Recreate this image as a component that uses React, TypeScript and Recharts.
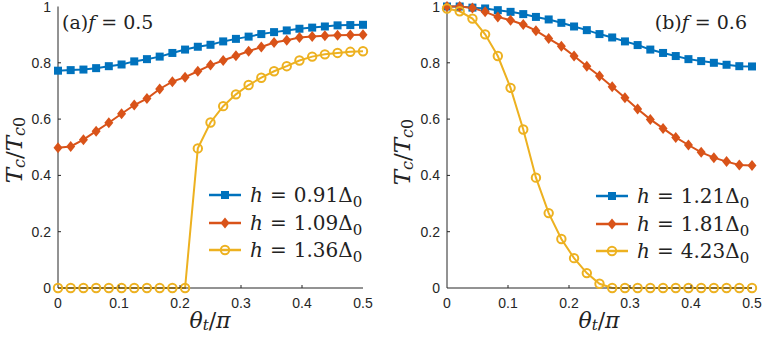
import React from "react";
import { Legend, Line, LineChart, XAxis, YAxis } from "recharts";

// theta_t / pi sample points (25 points from 0 to 0.5)
const theta = [
  0, 0.0208, 0.0417, 0.0625, 0.0833, 0.1042, 0.125, 0.1458, 0.1667, 0.1875, 0.2083, 0.2292, 0.25,
  0.2708, 0.2917, 0.3125, 0.3333, 0.3542, 0.375, 0.3958, 0.4167, 0.4375, 0.4583, 0.4792, 0.5,
];

// panel (a), f = 0.5
const hA = ["0.91", "1.09", "1.36"];
const a091 = [
  0.772, 0.774, 0.776, 0.781, 0.788, 0.794, 0.805, 0.813, 0.822, 0.835, 0.847, 0.857, 0.864, 0.876,
  0.885, 0.893, 0.902, 0.909, 0.915, 0.921, 0.925, 0.929, 0.933, 0.934, 0.935,
];
const a109 = [
  0.498, 0.503, 0.527, 0.557, 0.587, 0.619, 0.65, 0.673, 0.707, 0.733, 0.749, 0.77, 0.792, 0.808,
  0.825, 0.841, 0.856, 0.872, 0.88, 0.89, 0.893, 0.896, 0.898, 0.899, 0.9,
];
const a136 = [
  0, 0, 0, 0, 0, 0, 0, 0, 0, 0, 0, 0.496, 0.588, 0.646, 0.688, 0.721, 0.747, 0.77, 0.788, 0.808,
  0.822, 0.83, 0.835, 0.839, 0.841,
];

// panel (b), f = 0.6
const hB = ["1.21", "1.81", "4.23"];
const b121 = [
  1.0, 1.0, 0.996, 0.993, 0.987, 0.981, 0.973, 0.963, 0.954, 0.942, 0.929, 0.916, 0.902, 0.89,
  0.876, 0.863, 0.847, 0.835, 0.824, 0.813, 0.806, 0.8, 0.793, 0.788, 0.787,
];
const b181 = [
  1.0, 1.0, 0.995, 0.981, 0.963, 0.951, 0.936, 0.914, 0.886, 0.859, 0.824, 0.788, 0.753, 0.715,
  0.676, 0.636, 0.599, 0.567, 0.535, 0.508, 0.482, 0.463, 0.449, 0.437, 0.435,
];
const b423 = [
  0.993, 0.983, 0.957, 0.901, 0.824, 0.711, 0.563, 0.392, 0.266, 0.174, 0.106, 0.053, 0.015, 0, 0,
  0, 0, 0, 0, 0, 0, 0, 0, 0, 0,
];

const xTicks = [0, 0.1, 0.2, 0.3, 0.4, 0.5];
const yTicks = [0, 0.2, 0.4, 0.6, 0.8, 1];

const COLORS = ["#0072BD", "#D95319", "#EDB120"];
const MARKERS = ["square", "diamond", "circle"] as const;
const AXIS = "#262626";
const SANS = "Liberation Sans, Arial, sans-serif";
const SERIF = "DejaVu Serif, serif";

function Marker({ kind, cx, cy, color }: { kind: string; cx: number; cy: number; color: string }) {
  if (kind === "square") return <rect x={cx - 4} y={cy - 4} width={8} height={8} fill={color} />;
  if (kind === "diamond")
    return (
      <polygon
        points={`${cx},${cy - 5.5} ${cx + 4.5},${cy} ${cx},${cy + 5.5} ${cx - 4.5},${cy}`}
        fill={color}
      />
    );
  return <circle cx={cx} cy={cy} r={4.2} fill="none" stroke={color} strokeWidth={2} />;
}

const dotFor = (kind: string, color: string) => (p: any) => (
  <g key={`dot-${kind}-${p.index}`}>
    <Marker kind={kind} cx={p.cx} cy={p.cy} color={color} />
  </g>
);

const XTick = (p: any) => {
  const ay = p.y - 15;
  const v = p.payload.value;
  return (
    <g>
      {v > 0 && v < 0.5 && <line x1={p.x} x2={p.x} y1={ay} y2={ay - 3} stroke={AXIS} />}
      <text x={p.x} y={p.y} textAnchor="middle" dominantBaseline="central" fontFamily={SANS} fontSize={14} fill={AXIS}>
        {v === 0 ? "0" : String(v)}
      </text>
    </g>
  );
};

const YTick = (p: any) => {
  const ax = p.x + 7;
  const v = p.payload.value;
  return (
    <g>
      {v > 0 && v < 1 && <line x1={ax} x2={ax + 3} y1={p.y} y2={p.y} stroke={AXIS} />}
      <text x={p.x} y={p.y} textAnchor="end" dominantBaseline="central" fontFamily={SANS} fontSize={14} fill={AXIS}>
        {String(v)}
      </text>
    </g>
  );
};

function LegendBox({ hs }: { hs: string[] }) {
  return (
    <div style={{ position: "relative", width: 170, height: 84, fontFamily: SERIF, fontSize: 20, color: "#222" }}>
      {hs.map((h, i) => (
        <div
          key={h}
          style={{
            position: "absolute",
            left: 0,
            top: i * 27.5,
            height: 28,
            display: "flex",
            alignItems: "center",
            whiteSpace: "nowrap",
          }}
        >
          <svg width={34} height={20} style={{ marginRight: 8, flex: "none" }}>
            <line x1={1} x2={33} y1={10} y2={10} stroke={COLORS[i]} strokeWidth={2.5} />
            <Marker kind={MARKERS[i]} cx={17} cy={10} color={COLORS[i]} />
          </svg>
          <span>
            <i>h</i>
            <span style={{ margin: "0 7px" }}>=</span>
            {h}Δ<span style={{ fontSize: 15, position: "relative", top: 5 }}>0</span>
          </span>
        </div>
      ))}
    </div>
  );
}

function Panel({
  series,
  hs,
  yAxisWidth,
  right,
  legendLeft,
  legendTop,
}: {
  series: number[][];
  hs: string[];
  yAxisWidth: number;
  right: number;
  legendLeft: number;
  legendTop: number;
}) {
  const rows = theta.map((t, i) => ({ t, s0: series[0][i], s1: series[1][i], s2: series[2][i] }));
  const width = yAxisWidth + 305 + right;
  return (
    <LineChart width={width} height={339} data={rows} margin={{ top: 6.5, right, left: 0, bottom: 21 }}>
      <XAxis
        dataKey="t"
        type="number"
        domain={[0, 0.5]}
        ticks={xTicks}
        tickSize={0}
        tickMargin={15}
        height={30}
        tick={XTick}
        stroke={AXIS}
        interval={0}
      />
      <XAxis xAxisId="top" orientation="top" type="number" domain={[0, 0.5]} height={0} tick={false} stroke={AXIS} />
      <YAxis
        type="number"
        domain={[0, 1]}
        ticks={yTicks}
        tickSize={0}
        tickMargin={7}
        width={yAxisWidth}
        tick={YTick}
        stroke={AXIS}
        interval={0}
      />
      <YAxis yAxisId="r" orientation="right" type="number" domain={[0, 1]} width={0} tick={false} stroke={AXIS} />
      <Legend
        layout="horizontal"
        verticalAlign="middle"
        align="center"
        wrapperStyle={{ left: legendLeft, top: legendTop, width: 170, height: 84 }}
        content={() => <LegendBox hs={hs} />}
      />
      {[0, 1, 2].map((k) => (
        <Line
          key={k}
          type="linear"
          dataKey={`s${k}`}
          name={`h = ${hs[k]}Δ0`}
          stroke={COLORS[k]}
          strokeWidth={2}
          dot={dotFor(MARKERS[k], COLORS[k])}
          activeDot={false}
          isAnimationActive={false}
        />
      ))}
    </LineChart>
  );
}

function YLabel({ x, y }: { x: number; y: number }) {
  return (
    <text transform={`translate(${x},${y}) rotate(-90)`} textAnchor="middle" dominantBaseline="central" fontFamily={SERIF} fontSize={23} fill="#222">
      <tspan fontStyle="italic">T</tspan>
      <tspan fontStyle="italic" fontSize={16} dy={5}>c</tspan>
      <tspan dy={-5}>/</tspan>
      <tspan fontStyle="italic">T</tspan>
      <tspan fontStyle="italic" fontSize={16} dy={5}>c</tspan>
      <tspan fontSize={16}>0</tspan>
    </text>
  );
}

function XLabel({ x, y }: { x: number; y: number }) {
  return (
    <text x={x} y={y} textAnchor="middle" dominantBaseline="central" fontFamily={SERIF} fontSize={22} fill="#222">
      <tspan fontStyle="italic">θ</tspan>
      <tspan fontStyle="italic" fontSize={15} dy={5}>t</tspan>
      <tspan dy={-5}>/</tspan>
      <tspan fontStyle="italic">π</tspan>
    </text>
  );
}

export default function App() {
  return (
    <div style={{ position: "fixed", left: 0, top: 0, width: 763, height: 339, background: "#fff" }}>
      <div style={{ position: "absolute", left: 0, top: 0 }}>
        <Panel series={[a091, a109, a136]} hs={hA} yAxisWidth={58} right={17} legendLeft={208} legendTop={181} />
      </div>
      <div style={{ position: "absolute", left: 380, top: 0 }}>
        <Panel series={[b121, b181, b423]} hs={hB} yAxisWidth={67} right={12} legendLeft={215} legendTop={182} />
      </div>
      <svg width={763} height={339} style={{ position: "absolute", left: 0, top: 0, pointerEvents: "none" }}>
        <YLabel x={14} y={150} />
        <YLabel x={402} y={152} />
        <XLabel x={210} y={320} />
        <XLabel x={599} y={320} />
        <text x={62} y={29} fontFamily={SERIF} fontSize={19} fill="#222">
          (a)<tspan fontStyle="italic">f</tspan> = 0.5
        </text>
        <text x={747} y={29} textAnchor="end" fontFamily={SERIF} fontSize={19} fill="#222">
          (b)<tspan fontStyle="italic">f</tspan> = 0.6
        </text>
      </svg>
    </div>
  );
}
